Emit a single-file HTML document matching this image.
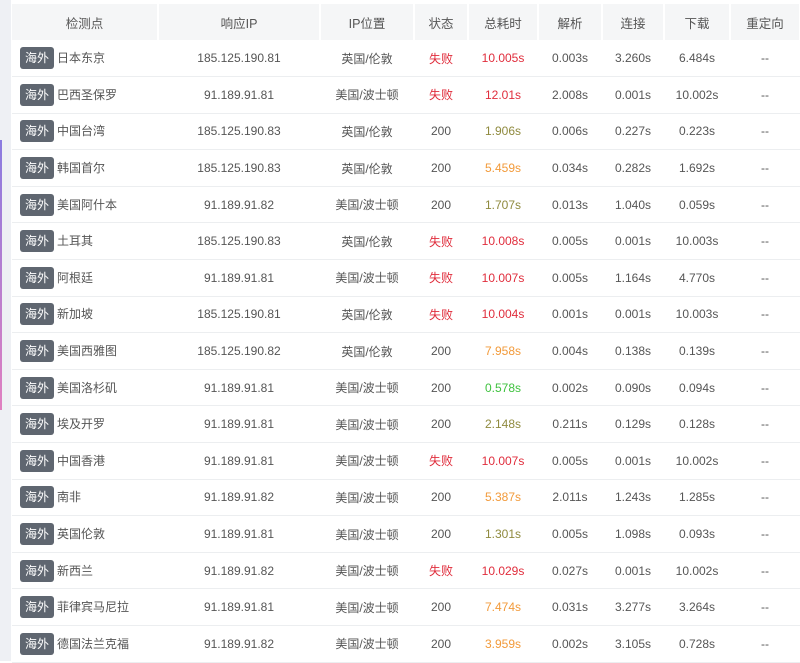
<!DOCTYPE html><html><head><meta charset="utf-8"><style>
body{margin:0;width:800px;height:661px;overflow:hidden;background:#fff;font-family:"Liberation Sans","Noto Sans CJK SC",sans-serif;font-size:12px;color:#555;position:relative}
.side{position:absolute;left:0;top:0;width:11px;height:661px;background:#eef0f4}
.bar{position:absolute;left:0;top:140px;width:2px;height:270px;background:linear-gradient(#8a7be0,#e080c0)}
table{position:absolute;left:12px;top:4px;border-collapse:collapse;table-layout:fixed;width:788px}
th{background:#f5f6f7;font-weight:normal;color:#555;height:36px;border-right:2px solid #fff;padding:0;font-size:12.5px}
td{height:36.6px;padding:0;text-align:center;border-bottom:1px solid #eceef0;box-sizing:border-box}
td.l{text-align:left;padding-left:8px}
.tag{display:inline-block;background:#5f6670;color:#fff;border-radius:3px;padding:0 5px;height:22px;line-height:22px;margin-right:3px;font-size:12px}
.r{color:#e02d3c}.o{color:#f29a3a}.y{color:#8f8a3e}.g{color:#3fc23f}
</style></head><body>
<div class="side"></div><div class="bar"></div>
<table>
<colgroup><col style="width:146px"><col style="width:162px"><col style="width:94px"><col style="width:54px"><col style="width:70px"><col style="width:64px"><col style="width:62px"><col style="width:66px"><col style="width:70px"></colgroup>
<tr><th>检测点</th><th>响应IP</th><th>IP位置</th><th>状态</th><th>总耗时</th><th>解析</th><th>连接</th><th>下载</th><th>重定向</th></tr>
<tr><td class="l"><span class="tag">海外</span>日本东京</td><td>185.125.190.81</td><td>英国/伦敦</td><td class="r">失败</td><td class="r">10.005s</td><td>0.003s</td><td>3.260s</td><td>6.484s</td><td>--</td></tr>
<tr><td class="l"><span class="tag">海外</span>巴西圣保罗</td><td>91.189.91.81</td><td>美国/波士顿</td><td class="r">失败</td><td class="r">12.01s</td><td>2.008s</td><td>0.001s</td><td>10.002s</td><td>--</td></tr>
<tr><td class="l"><span class="tag">海外</span>中国台湾</td><td>185.125.190.83</td><td>英国/伦敦</td><td>200</td><td class="y">1.906s</td><td>0.006s</td><td>0.227s</td><td>0.223s</td><td>--</td></tr>
<tr><td class="l"><span class="tag">海外</span>韩国首尔</td><td>185.125.190.83</td><td>英国/伦敦</td><td>200</td><td class="o">5.459s</td><td>0.034s</td><td>0.282s</td><td>1.692s</td><td>--</td></tr>
<tr><td class="l"><span class="tag">海外</span>美国阿什本</td><td>91.189.91.82</td><td>美国/波士顿</td><td>200</td><td class="y">1.707s</td><td>0.013s</td><td>1.040s</td><td>0.059s</td><td>--</td></tr>
<tr><td class="l"><span class="tag">海外</span>土耳其</td><td>185.125.190.83</td><td>英国/伦敦</td><td class="r">失败</td><td class="r">10.008s</td><td>0.005s</td><td>0.001s</td><td>10.003s</td><td>--</td></tr>
<tr><td class="l"><span class="tag">海外</span>阿根廷</td><td>91.189.91.81</td><td>美国/波士顿</td><td class="r">失败</td><td class="r">10.007s</td><td>0.005s</td><td>1.164s</td><td>4.770s</td><td>--</td></tr>
<tr><td class="l"><span class="tag">海外</span>新加坡</td><td>185.125.190.81</td><td>英国/伦敦</td><td class="r">失败</td><td class="r">10.004s</td><td>0.001s</td><td>0.001s</td><td>10.003s</td><td>--</td></tr>
<tr><td class="l"><span class="tag">海外</span>美国西雅图</td><td>185.125.190.82</td><td>英国/伦敦</td><td>200</td><td class="o">7.958s</td><td>0.004s</td><td>0.138s</td><td>0.139s</td><td>--</td></tr>
<tr><td class="l"><span class="tag">海外</span>美国洛杉矶</td><td>91.189.91.81</td><td>美国/波士顿</td><td>200</td><td class="g">0.578s</td><td>0.002s</td><td>0.090s</td><td>0.094s</td><td>--</td></tr>
<tr><td class="l"><span class="tag">海外</span>埃及开罗</td><td>91.189.91.81</td><td>美国/波士顿</td><td>200</td><td class="y">2.148s</td><td>0.211s</td><td>0.129s</td><td>0.128s</td><td>--</td></tr>
<tr><td class="l"><span class="tag">海外</span>中国香港</td><td>91.189.91.81</td><td>美国/波士顿</td><td class="r">失败</td><td class="r">10.007s</td><td>0.005s</td><td>0.001s</td><td>10.002s</td><td>--</td></tr>
<tr><td class="l"><span class="tag">海外</span>南非</td><td>91.189.91.82</td><td>美国/波士顿</td><td>200</td><td class="o">5.387s</td><td>2.011s</td><td>1.243s</td><td>1.285s</td><td>--</td></tr>
<tr><td class="l"><span class="tag">海外</span>英国伦敦</td><td>91.189.91.81</td><td>美国/波士顿</td><td>200</td><td class="y">1.301s</td><td>0.005s</td><td>1.098s</td><td>0.093s</td><td>--</td></tr>
<tr><td class="l"><span class="tag">海外</span>新西兰</td><td>91.189.91.82</td><td>美国/波士顿</td><td class="r">失败</td><td class="r">10.029s</td><td>0.027s</td><td>0.001s</td><td>10.002s</td><td>--</td></tr>
<tr><td class="l"><span class="tag">海外</span>菲律宾马尼拉</td><td>91.189.91.81</td><td>美国/波士顿</td><td>200</td><td class="o">7.474s</td><td>0.031s</td><td>3.277s</td><td>3.264s</td><td>--</td></tr>
<tr><td class="l"><span class="tag">海外</span>德国法兰克福</td><td>91.189.91.82</td><td>美国/波士顿</td><td>200</td><td class="o">3.959s</td><td>0.002s</td><td>3.105s</td><td>0.728s</td><td>--</td></tr>
</table>
</body></html>
